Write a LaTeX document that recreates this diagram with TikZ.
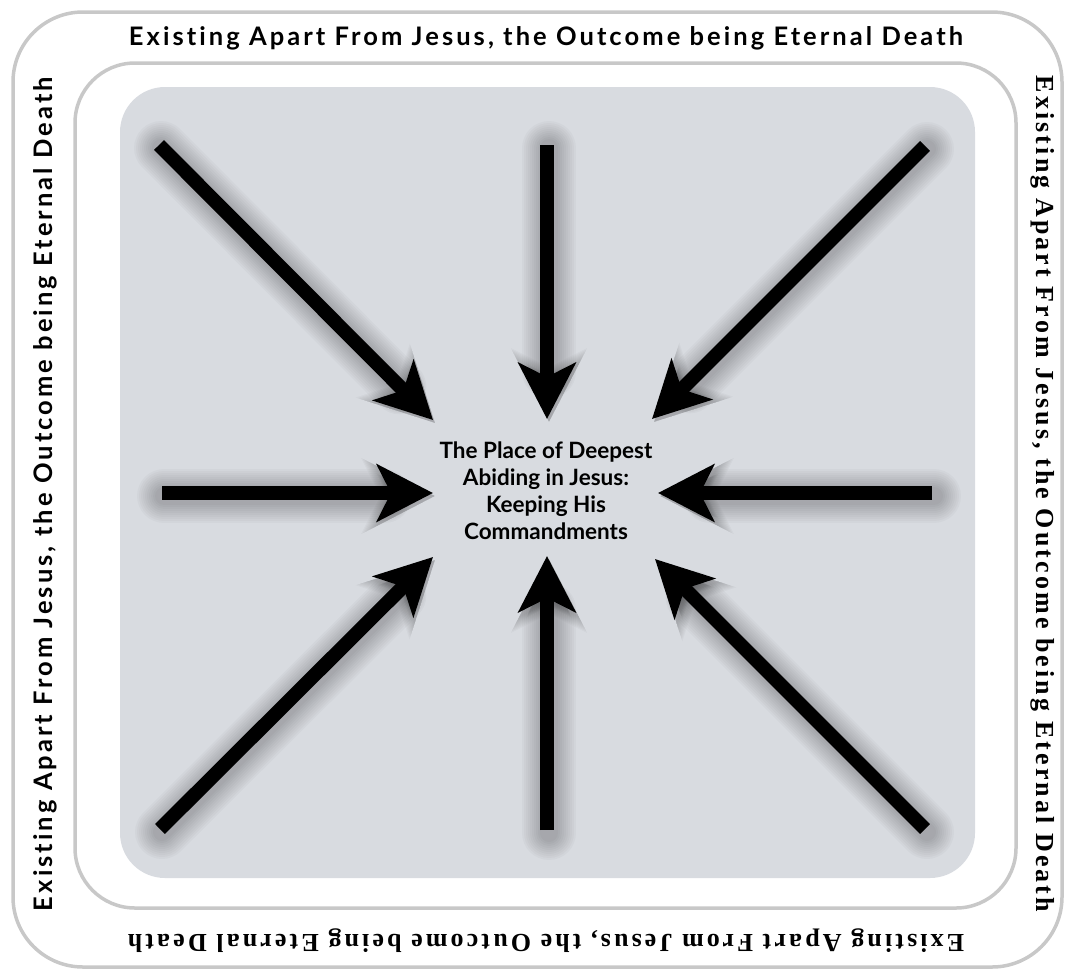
\documentclass[tikz,border=0pt]{standalone}
\usepackage{fontspec}
\usetikzlibrary{arrows.meta}
\newfontfamily\bordersans[LetterSpace=12,Ligatures={NoCommon,NoRare}]{Lato}
\newfontfamily\borderserif[LetterSpace=12,Ligatures={NoCommon,NoRare}]{Liberation Serif}
\newfontfamily\centersans{Lato}
\definecolor{panelgrey}{HTML}{D8DBE0}
\definecolor{framegrey}{HTML}{C8C8C8}
\tikzset{
  frameline/.style={draw=framegrey, line width=3.5pt},
  bordertext/.style={font=\bfseries\fontsize{25.5}{30}\selectfont, inner sep=0pt},
  pointer/.style={line width=14pt, -{Stealth[length=56pt,width=57pt,inset=14pt]}},
  pointershadow/.style={black, opacity=0.025, line cap=round, transparency group}
}

\begin{document}
\begin{tikzpicture}[x=1pt,y=-1pt]
  \useasboundingbox (0,0) rectangle (1065,970);
  % frames and panel
  \draw[frameline, rounded corners=70pt] (13,12) rectangle (1062,967);
  \draw[frameline, rounded corners=60pt] (75,63) rectangle (1016,908);
  \fill[panelgrey, rounded corners=45pt] (120,87) rectangle (975,878);

  % border texts
  \node[bordertext] (topband) at (546,38) {\bordersans Existing Apart From Jesus, the Outcome being Eternal Death};
  \node[bordertext, rotate=90] (leftband) at (45,494) {\bordersans Existing Apart From Jesus, the Outcome being Eternal Death};
  \node[bordertext, font=\bfseries\fontsize{26}{30}\selectfont, rotate=-90] (rightband) at (1043,494) {\borderserif Existing Apart From Jesus, the Outcome being Eternal Death};
  \node[bordertext, font=\bfseries\fontsize{26}{30}\selectfont, rotate=180] (bottomband) at (546,941) {\borderserif Existing Apart From Jesus, the Outcome being Eternal Death};

  % centre
  \node[align=center, font=\centersans\bfseries\fontsize{22.5}{27}\selectfont] (place) at (546,491)
    {The Place of Deepest\\Abiding in Jesus:\\Keeping His\\Commandments};

  % arrow ends
  \coordinate (s1) at (159,145);  \coordinate (t1) at (433,420);
  \coordinate (s2) at (547,145);  \coordinate (t2) at (547,419);
  \coordinate (s3) at (925,146);  \coordinate (t3) at (652,419);
  \coordinate (s4) at (162,493);  \coordinate (t4) at (433,493);
  \coordinate (s5) at (932,493);  \coordinate (t5) at (658,493);
  \coordinate (s6) at (160,829);  \coordinate (t6) at (433,557);
  \coordinate (s7) at (547,830);  \coordinate (t7) at (547,556);
  \coordinate (s8) at (925,829);  \coordinate (t8) at (655,559);

  \foreach \s/\t in {s1/t1,s2/t2,s3/t3,s4/t4,s5/t5,s6/t6,s7/t7,s8/t8}{
    % soft shadow
    \foreach \k [evaluate=\k as \sc using 1+0.03*\k] in {1,...,10}
      \draw[pointershadow, line width=14pt+4pt*\k,
            -{Stealth[length=56pt,width=57pt,inset=14pt,scale=\sc]}]
        ([shift={(2,3)}]\s) -- ([shift={(2,3)}]\t);
    \draw[pointer] (\s) -- (\t);
  }
\end{tikzpicture}
\end{document}
